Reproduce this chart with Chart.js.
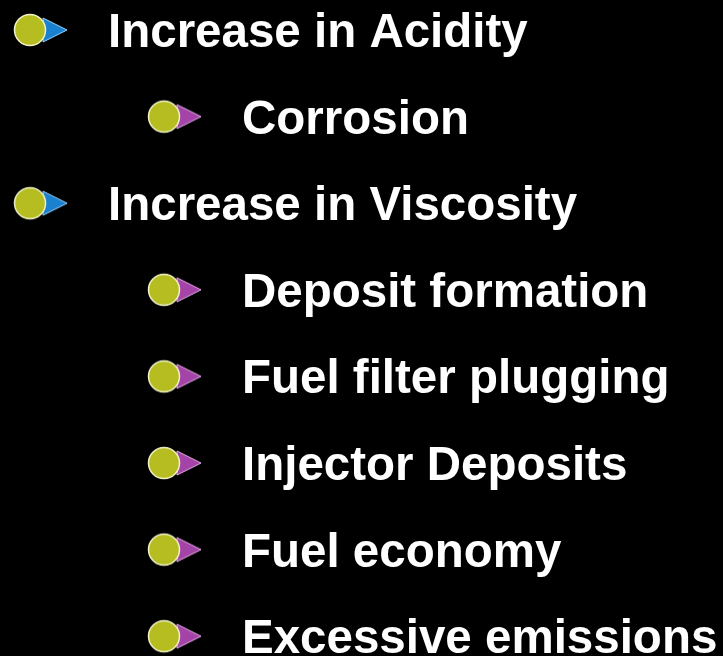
<!DOCTYPE html>
<html>
<head>
<meta charset="utf-8">
<script src="https://cdn.jsdelivr.net/npm/chart.js@4"></script>
<style>
  html, body { margin: 0; padding: 0; background: #000; }
  #wrap { width: 723px; height: 656px; position: relative; }
</style>
</head>
<body>
<div id="wrap"><canvas id="bulletChart"></canvas></div>
<script>
// lista de puntos (texto + nivel de sangria)
const items = [
  "Increase in Acidity",
  "Corrosion",
  "Increase in Viscosity",
  "Deposit formation",
  "Fuel filter plugging",
  "Injector Deposits",
  "Fuel economy",
  "Excessive emissions",
];
const levels = [0, 1, 0, 1, 1, 1, 1, 1];
const arrowColors = ["#1a80d0", "#a443a8"];
const arrowEdges = ["#9fd0f5", "#e0b0e2"];

// imagen de la viñeta: circulo verde oliva + triangulo
function makeBullet(level) {
  const c = document.createElement("canvas");
  c.width = 76;
  c.height = 36;
  const g = c.getContext("2d");
  const cx = 38, cy = 18;
  g.beginPath();
  g.moveTo(cx + 13, cy - 12);
  g.lineTo(cx + 37, cy);
  g.lineTo(cx + 13, cy + 12);
  g.closePath();
  g.fillStyle = arrowColors[level];
  g.fill();
  g.strokeStyle = arrowEdges[level];
  g.lineWidth = 1;
  g.stroke();
  g.beginPath();
  g.arc(cx, cy, 15.5, 0, Math.PI * 2);
  g.fillStyle = "#b5bd20";
  g.fill();
  g.strokeStyle = "#f2f3c8";
  g.lineWidth = 1.5;
  g.stroke();
  return c;
}
const bullets = [makeBullet(0), makeBullet(1)];

const bgPlugin = {
  id: "bg",
  beforeDraw(chart) {
    const c = chart.ctx;
    c.save();
    c.fillStyle = "#000";
    c.fillRect(0, 0, chart.width, chart.height);
    c.restore();
  },
};

const labelPlugin = {
  id: "labels",
  afterDatasetsDraw(chart) {
    const c = chart.ctx;
    const meta = chart.getDatasetMeta(0);
    c.save();
    c.fillStyle = "#ffffff";
    c.font = "bold 47.5px 'Liberation Sans', Arial, sans-serif";
    c.textBaseline = "alphabetic";
    meta.data.forEach((pt, i) => {
      c.fillText(items[i], pt.x + 78, pt.y + 17);
    });
    c.restore();
  },
};

const ctx = document.getElementById("bulletChart").getContext("2d");
const bulletChart = new Chart(ctx, {
  type: "scatter",
  data: {
    datasets: [
      {
        data: items.map((t, i) => ({ x: levels[i], y: i })),
        pointStyle: (c) => bullets[levels[c.dataIndex]],
        pointRadius: 18,
        pointHoverRadius: 18,
        clip: false,
      },
    ],
  },
  options: {
    responsive: true,
    maintainAspectRatio: false,
    animation: false,
    layout: { padding: 0, autoPadding: false },
    scales: {
      x: { display: false, min: -0.2239, max: 5.172 },
      y: { display: false, reverse: true, min: -0.3464, max: 7.2286 },
    },
    plugins: {
      legend: { display: false },
      tooltip: { enabled: false },
    },
  },
  plugins: [bgPlugin, labelPlugin],
});
</script>
</body>
</html>
